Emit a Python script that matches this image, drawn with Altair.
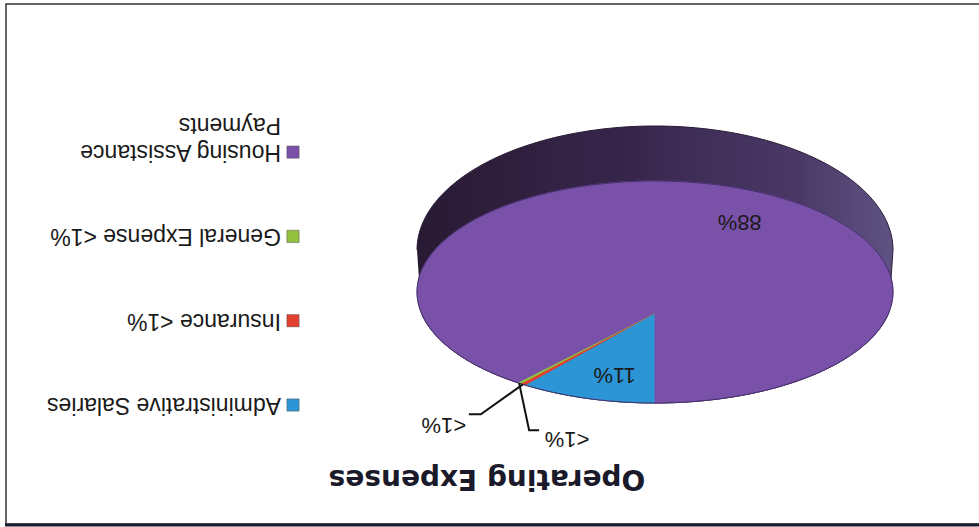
import altair as alt
import numpy as np
import pandas as pd

# ---------------- data ----------------
categories = ["Administrative Salaries", "Insurance", "General Expense", "Housing Assistance Payments"]
shares = [11.0, 0.4, 0.3, 88.3]
pct_labels = ["11%", "<1%", "<1%", "88%"]
legend_labels = ["Administrative Salaries", "Insurance <1%", "General Expense <1%", "Housing Assistance\nPayments"]
title_text = "Operating Expenses"

# ---------------- style / layout ----------------
colors = ["#2b95d6", "#e2402e", "#93c13d", "#7a51a9"]
W, H = 979, 527
CX = 655.0
APEX_Y = 313.0
FACE_TOP, FACE_BOTTOM, HALF_W = 181.0, 403.0, 238.0
BASE_CY, BASE_RY = 250.0, 124.0
C = (2 * APEX_Y - FACE_BOTTOM - FACE_TOP) / (FACE_BOTTOM - FACE_TOP)
PA = FACE_BOTTOM * (C + 1) - APEX_Y
A = HALF_W * np.sqrt(1 - C * C)


def persp(theta, r=1.0):
    x = -np.sin(theta) * r
    y = np.cos(theta) * r
    d = 1 + C * y
    return CX + A * x / d, (PA * y + APEX_Y) / d


vals = np.array(shares, float)
frac = vals / vals.sum()
ends = np.cumsum(frac) * 2 * np.pi
starts = ends - frac * 2 * np.pi
mids = (starts + ends) / 2

# face slices
rows = []
for i, cat in enumerate(categories):
    n = max(4, int(frac[i] * 240))
    th = np.linspace(starts[i], ends[i], n)
    px, py = persp(th)
    rows.append(dict(slice=cat, k=0, px=CX, py=APEX_Y))
    for j in range(n):
        rows.append(dict(slice=cat, k=j + 1, px=px[j], py=py[j]))
    rows.append(dict(slice=cat, k=n + 1, px=CX, py=APEX_Y))
face_df = pd.DataFrame(rows)

# side (visible wall)
side_rows = []
th_b = np.linspace(np.pi / 2, 3 * np.pi / 2, 120)
for j, t in enumerate(th_b):
    side_rows.append(dict(k=j, px=CX - HALF_W * np.sin(t), py=BASE_CY + BASE_RY * np.cos(t)))
th_f = np.linspace(3 * np.pi / 2, 5 * np.pi / 2, 120)
fx, fy = persp(th_f)
for j in range(len(th_f)):
    side_rows.append(dict(k=200 + j, px=fx[j], py=fy[j]))
side_df = pd.DataFrame(side_rows)

# face outline
th_o = np.linspace(0, 2 * np.pi, 240)
ox, oy = persp(th_o)
outline_df = pd.DataFrame(dict(k=np.arange(len(th_o)), px=ox, py=oy))

# big labels
big = [0, 3]
lx, ly = persp(mids[big], 0.75)
big_df = pd.DataFrame(dict(label=[pct_labels[i] for i in big], px=lx + 12, py=ly - 5))

# small slice labels with leader lines
small = [1, 2]
elbows = {1: ((-42, 30), (-54, 30), (-79, 41)), 2: ((10, 47), (20, 47), (48, 56))}
lead_rows, small_rows = [], []
for i in small:
    sx, sy = persp(mids[i])
    e1, e2, lab = elbows[i]
    lead_rows += [dict(slice=categories[i], k=0, px=sx, py=sy),
                  dict(slice=categories[i], k=1, px=sx + e1[0], py=sy + e1[1]),
                  dict(slice=categories[i], k=2, px=sx + e2[0], py=sy + e2[1])]
    small_rows.append(dict(label=pct_labels[i], px=sx + lab[0], py=sy + lab[1]))
lead_df = pd.DataFrame(lead_rows)
small_df = pd.DataFrame(small_rows)

# legend
LEG_Y0, LEG_DY, LINE_H = 405.0, 84.3, 27.0
SQ_X, TXT_X = 293.0, 281.0
leg_sq = pd.DataFrame(dict(slice=categories, px=SQ_X, py=[LEG_Y0 - i * LEG_DY for i in range(4)]))
leg_txt_rows = []
for i, lab in enumerate(legend_labels):
    for j, line in enumerate(lab.split("\n")):
        leg_txt_rows.append(dict(text=line, px=TXT_X, py=LEG_Y0 - i * LEG_DY - j * LINE_H))
leg_txt = pd.DataFrame(leg_txt_rows)

title_df = pd.DataFrame(dict(text=[title_text], px=[487.0], py=[478.0]))
frame_df = pd.DataFrame(dict(a=[0]))

# ---------------- encodings ----------------
xs = alt.Scale(domain=[0, W], nice=False, zero=False)
ys = alt.Scale(domain=[0, H], nice=False, zero=False, reverse=True)
X = alt.X("px:Q", scale=xs, axis=None)
Y = alt.Y("py:Q", scale=ys, axis=None)
cscale = alt.Scale(domain=categories, range=colors)

side = alt.Chart(side_df).mark_line(
    stroke="#2a1c36", strokeWidth=1,
    fill=alt.Gradient(gradient="linear", x1=0, x2=1, y1=0, y2=0,
                      stops=[alt.GradientStop(color="#291a33", offset=0),
                             alt.GradientStop(color="#37264c", offset=0.45),
                             alt.GradientStop(color="#4a3967", offset=0.8),
                             alt.GradientStop(color="#5f5383", offset=1)])
).encode(x=X, y=Y, order="k:Q")

face = alt.Chart(face_df).mark_line(strokeWidth=0.8).encode(
    x=X, y=Y, order="k:Q",
    fill=alt.Fill("slice:N", scale=cscale, legend=None),
    stroke=alt.Stroke("slice:N", scale=cscale, legend=None),
)

outline = alt.Chart(outline_df).mark_line(stroke="#45306a", strokeWidth=1).encode(x=X, y=Y, order="k:Q")

leads = alt.Chart(lead_df).mark_line(stroke="#111111", strokeWidth=2).encode(
    x=X, y=Y, order="k:Q", detail="slice:N")

big_txt = alt.Chart(big_df).mark_text(
    angle=180, font="Liberation Sans", fontSize=22, color="#1a1a1a", align="center", baseline="middle"
).encode(x=X, y=Y, text="label:N")

small_txt = alt.Chart(small_df).mark_text(
    angle=180, font="Liberation Sans", fontSize=22, color="#1a1a1a", align="center", baseline="middle"
).encode(x=X, y=Y, text="label:N")

leg_squares = alt.Chart(leg_sq).mark_point(shape="square", filled=True, size=150, opacity=1,
                                           stroke="#555555", strokeWidth=0.5).encode(
    x=X, y=Y, fill=alt.Fill("slice:N", scale=cscale, legend=None))

leg_text = alt.Chart(leg_txt).mark_text(
    angle=180, font="Liberation Sans", fontSize=23, color="#1a1a1a", align="left", baseline="middle"
).encode(x=X, y=Y, text="text:N")

title = alt.Chart(title_df).mark_text(
    angle=180, font="DejaVu Sans", fontSize=28, fontWeight="bold", color="#1a1a2a",
    align="center", baseline="middle"
).encode(x=X, y=Y, text="text:N")

frame = alt.Chart(frame_df).mark_rect(fill=None, stroke="#333333", strokeWidth=1.5).encode(
    x=alt.value(6), x2=alt.value(995), y=alt.value(4), y2=alt.value(524))
bottom = alt.Chart(frame_df).mark_rule(stroke="#1c1c30", strokeWidth=3).encode(
    x=alt.value(5), x2=alt.value(979), y=alt.value(525))

chart = alt.layer(
    frame, bottom, side, face, outline, leads, big_txt, small_txt, leg_squares, leg_text, title
).properties(
    width=W, height=H, padding=0, autosize=alt.AutoSizeParams(type="none"), background="white"
).configure_view(stroke=None)

chart.save("out.html", embed_options={"renderer": "svg", "actions": False})
